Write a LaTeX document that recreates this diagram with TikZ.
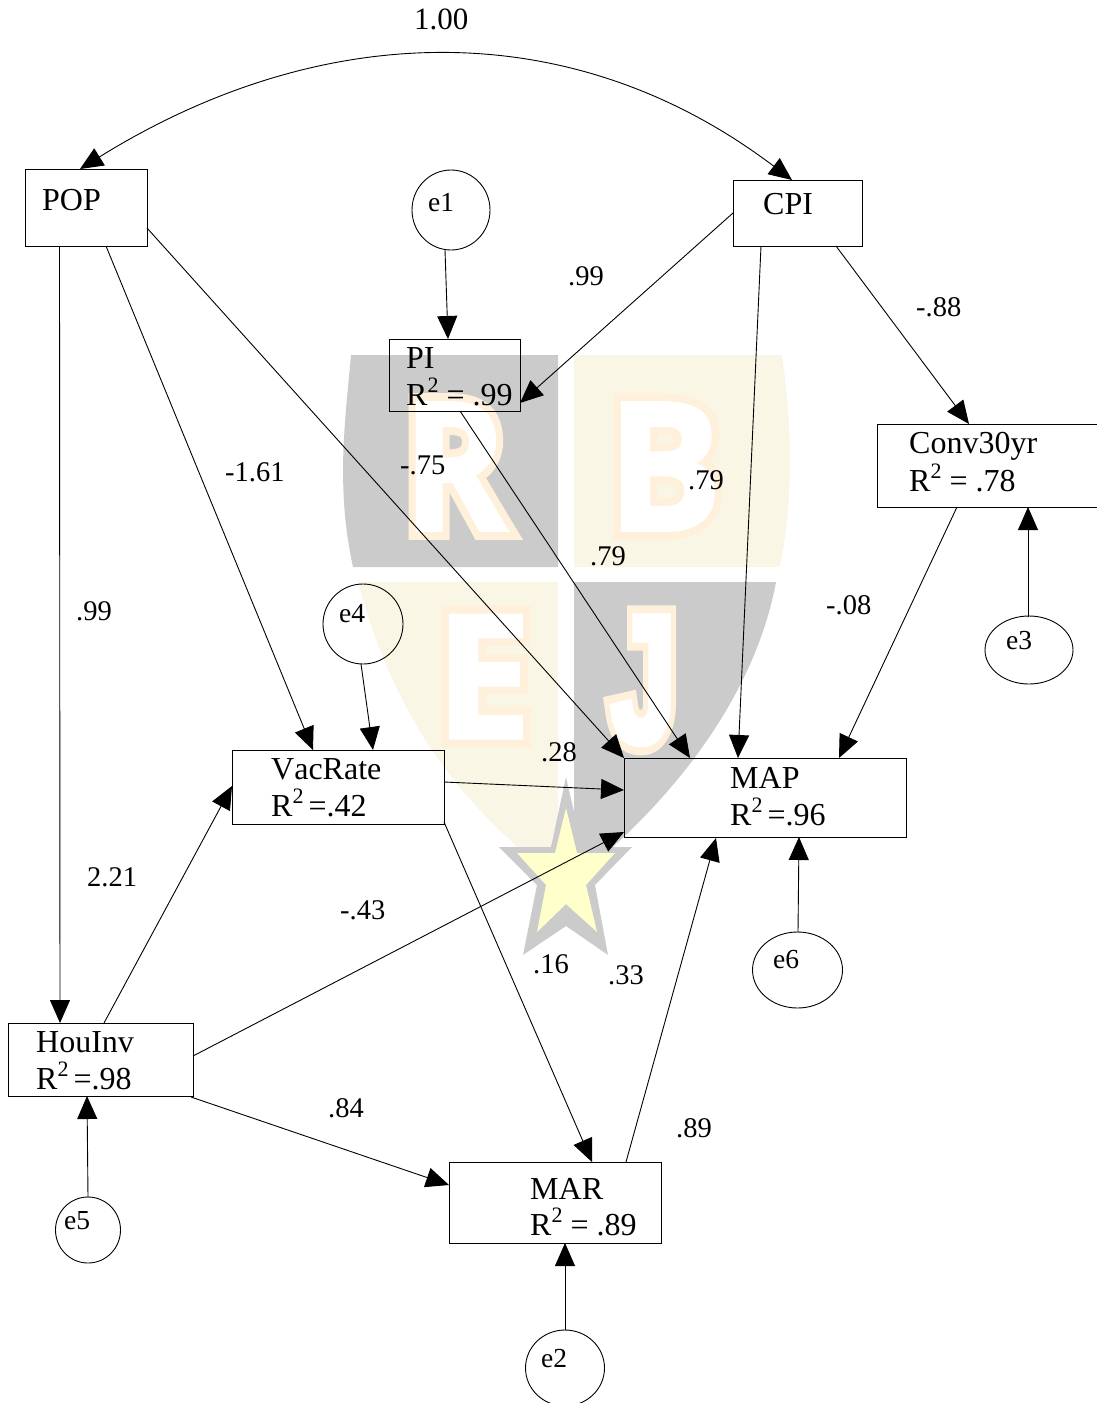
\documentclass[tikz,border=0pt]{standalone}
\usepackage{fontspec}
\setmainfont{Liberation Serif}[Kerning=Off]
\newfontfamily\wmfill{Open Sans}[UprightFont=* Bold,FakeBold=2]
\newfontfamily\wmedge{Open Sans}[UprightFont=* Bold,FakeBold=11]
\newfontfamily\wmfillj{Liberation Sans}[UprightFont=* Bold,FakeBold=5]
\newfontfamily\wmedgej{Liberation Sans}[UprightFont=* Bold,FakeBold=14]
\usetikzlibrary{arrows.meta,shapes.geometric}
\definecolor{wmgray}{HTML}{CBCBCB}
\definecolor{wmcream}{HTML}{F9F6E6}
\definecolor{wmstar}{HTML}{FFFFCC}
\definecolor{wmedgecol}{HTML}{FEF0DA}
\newcommand{\Rsq}{R\raisebox{0.40em}{\fontsize{22}{22}\selectfont 2}}
\tikzset{
  x=1pt,y=-1pt,
  boxnode/.style={draw=black,line width=0.9pt,rectangle,inner sep=0pt,anchor=north west},
  errnode/.style={draw=black,line width=0.9pt,ellipse,inner sep=0pt},
  nametext/.style={anchor=base west,inner sep=0pt,font=\fontsize{32}{32}\selectfont},
  errtext/.style={anchor=base west,inner sep=0pt,font=\fontsize{27.5}{28}\selectfont},
  coef/.style={anchor=base west,inner sep=0pt,font=\fontsize{28.5}{29}\selectfont},
  link/.style={line width=0.9pt,-{Triangle[length=23pt,width=20pt]}},
  wmletter/.style={anchor=base west,inner sep=0pt},
}
\begin{document}
\begin{tikzpicture}
\useasboundingbox (0,0) rectangle (1096,1403);
% watermark shield
\fill[wmgray] (351,355) -- (558,355) -- (558,567) -- (353,567) .. controls (345,530) and (343,500) .. (343,465) .. controls (344,420) and (348,390) .. (351,355) -- cycle;
\fill[wmcream] (574,355) -- (782,355) .. controls (787,390) and (790,425) .. (790,462) .. controls (790,500) and (786,535) .. (780,567) -- (574,567) -- cycle;
\fill[wmcream] (358,582) -- (558,582) -- (558,880) .. controls (480,820) and (400,740) .. (358,582) -- cycle;
\fill[wmgray] (574,582) -- (776,582) .. controls (760,670) and (700,780) .. (574,880) -- cycle;
\node[wmletter,text=wmedgecol,transform shape,xscale=.88] (wr0) at (403,530) {\fontsize{178}{178}\wmedge R};
\node[wmletter,text=wmedgecol,transform shape,xscale=.96] (wb0) at (607,530) {\fontsize{178}{178}\wmedge B};
\node[wmletter,text=wmedgecol] (we0) at (435,738) {\fontsize{172}{172}\wmedge E};
\node[wmletter,text=wmedgecol,transform shape,xscale=.65] (wj0) at (611,741) {\fontsize{179}{179}\wmedgej J};
\node[wmletter,text=white,transform shape,xscale=.88] (wr) at (403,530) {\fontsize{178}{178}\wmfill R};
\node[wmletter,text=white,transform shape,xscale=.96] (wb) at (607,530) {\fontsize{178}{178}\wmfill B};
\node[wmletter,text=white] (we) at (435,738) {\fontsize{172}{172}\wmfill E};
\node[wmletter,text=white,transform shape,xscale=.65] (wj) at (611,741) {\fontsize{179}{179}\wmfillj J};
% star
\fill[wmgray] (566,777) -- (582,847) -- (632,847) -- (595,885) -- (608,955) -- (566,926) -- (523,955) -- (537,885) -- (499,847) -- (551,847) -- cycle;
\fill[wmstar] (566,808) -- (577,853) -- (615,853) -- (586,885) -- (597,932) -- (566,904) -- (537,932) -- (546,885) -- (517,853) -- (555,853) -- cycle;
% boxes
\node[boxnode,minimum width=122pt,minimum height=77pt] (POP) at (25,169) {};
\node[boxnode,minimum width=129pt,minimum height=66pt] (CPI) at (733,180) {};
\node[boxnode,minimum width=131pt,minimum height=72pt] (PI) at (389,339) {};
\node[boxnode,minimum width=225pt,minimum height=83pt] (CONV) at (877,424) {};
\node[boxnode,minimum width=212pt,minimum height=74pt] (VAC) at (232,750) {};
\node[boxnode,minimum width=282pt,minimum height=79pt] (MAP) at (624,758) {};
\node[boxnode,minimum width=185pt,minimum height=73pt] (HOU) at (8,1023) {};
\node[boxnode,minimum width=212pt,minimum height=81pt] (MAR) at (449,1162) {};
% error terms
\node[errnode,minimum width=78pt,minimum height=80pt] (E1) at (451,210) {};
\node[errnode,minimum width=80pt,minimum height=80pt] (E4) at (363,624) {};
\node[errnode,minimum width=88pt,minimum height=68pt] (E3) at (1029,650) {};
\node[errnode,minimum width=90pt,minimum height=76pt] (E6) at (797.5,970) {};
\node[errnode,minimum width=65pt,minimum height=66pt] (E5) at (88,1230) {};
\node[errnode,minimum width=79pt,minimum height=76pt] (E2) at (565,1368) {};
% names
\node[nametext] (tPOP) at (42,210) {POP};
\node[nametext] (tCPI) at (763,214) {CPI};
\node[nametext] (tPI) at (406,368) {PI};
\node[nametext] (tPIr) at (406,405) {\Rsq{} = .99};
\node[nametext] (tCONV) at (909,453) {Conv30yr};
\node[nametext] (tCONVr) at (909,491) {\Rsq{} = .78};
\node[nametext] (tVAC) at (271,779) {VacRate};
\node[nametext] (tVACr) at (271,816) {\Rsq{}\hspace{5pt}=.42};
\node[nametext] (tMAP) at (730,788) {MAP};
\node[nametext] (tMAPr) at (730,825) {\Rsq{}\hspace{5pt}=.96};
\node[nametext] (tHOU) at (36,1052) {HouInv};
\node[nametext] (tHOUr) at (36,1089) {\Rsq{}\hspace{5pt}=.98};
\node[nametext] (tMAR) at (530,1199) {MAR};
\node[nametext] (tMARr) at (530,1235) {\Rsq{} = .89};
\node[errtext] (tE1) at (428,211) {e1};
\node[errtext] (tE4) at (339,622) {e4};
\node[errtext] (tE3) at (1006,649) {e3};
\node[errtext] (tE6) at (773,968) {e6};
\node[errtext] (tE5) at (64,1229) {e5};
\node[errtext] (tE2) at (541,1367) {e2};
% coefficients
\node[coef,font=\fontsize{31}{31}\selectfont] (c1) at (414,29) {1.00};
\node[coef] (c2) at (568,285) {.99};
\node[coef] (c3) at (916,316) {-.88};
\node[coef] (c4) at (225,481) {-1.61};
\node[coef] (c5) at (400,474) {-.75};
\node[coef] (c6) at (688,489) {.79};
\node[coef] (c7) at (590,565) {.79};
\node[coef] (c8) at (826,614) {-.08};
\node[coef] (c9) at (76,620) {.99};
\node[coef] (c10) at (541,761) {.28};
\node[coef] (c11) at (87,886) {2.21};
\node[coef] (c12) at (340,919) {-.43};
\node[coef] (c13) at (533,973) {.16};
\node[coef] (c14) at (608,984) {.33};
\node[coef] (c15) at (328,1117) {.84};
\node[coef] (c16) at (676,1137) {.89};
% connectors
\draw[line width=0.9pt,{Triangle[length=23pt,width=20pt]}-{Triangle[length=23pt,width=20pt]}]
  ([shift={(55,0)}]POP.north west) .. controls (320,20) and (570,12) .. ([shift={(59,0)}]CPI.north west);
\draw[link] ([shift={(34.5,77)}]POP.north west) -- ([shift={(52,0)}]HOU.north west);
\draw[link] ([shift={(81,77)}]POP.north west) -- ([shift={(81,0)}]VAC.north west);
\draw[link] ([shift={(122,59)}]POP.north west) -- ([shift={(0,0)}]MAP.north west);
\draw[link] ([shift={(-6,40)}]E1.center) -- ([shift={(59,0)}]PI.north west);
\draw[link] ([shift={(0,33)}]CPI.north west) -- ([shift={(131,64)}]PI.north west);
\draw[link] ([shift={(28,66)}]CPI.north west) -- ([shift={(114,0)}]MAP.north west);
\draw[link] ([shift={(103,66)}]CPI.north west) -- ([shift={(92,0)}]CONV.north west);
\draw[link] ([shift={(71,72)}]PI.north west) -- ([shift={(66,0)}]MAP.north west);
\draw[link] ([shift={(80,83)}]CONV.north west) -- ([shift={(215,0)}]MAP.north west);
\draw[link] ([shift={(-1,-33)}]E3.center) -- ([shift={(151,83)}]CONV.north west);
\draw[link] ([shift={(-2,40)}]E4.center) -- ([shift={(141,0)}]VAC.north west);
\draw[link] ([shift={(212,32)}]VAC.north west) -- ([shift={(0,32)}]MAP.north west);
\draw[link] ([shift={(96,0)}]HOU.north west) -- ([shift={(0,36)}]VAC.north west);
\draw[link] ([shift={(185,33)}]HOU.north west) -- ([shift={(0,74)}]MAP.north west);
\draw[link] ([shift={(212,72)}]VAC.north west) -- ([shift={(143,0)}]MAR.north west);
\draw[link] ([shift={(183,74)}]HOU.north west) -- ([shift={(0,23)}]MAR.north west);
\draw[link] ([shift={(177,0)}]MAR.north west) -- ([shift={(92,80)}]MAP.north west);
\draw[link] ([shift={(0.5,-38)}]E6.center) -- ([shift={(175,79)}]MAP.north west);
\draw[link] ([shift={(0,-33)}]E5.center) -- ([shift={(79,73)}]HOU.north west);
\draw[link] ([shift={(0,-38)}]E2.center) -- ([shift={(116,81)}]MAR.north west);
\end{tikzpicture}
\end{document}
